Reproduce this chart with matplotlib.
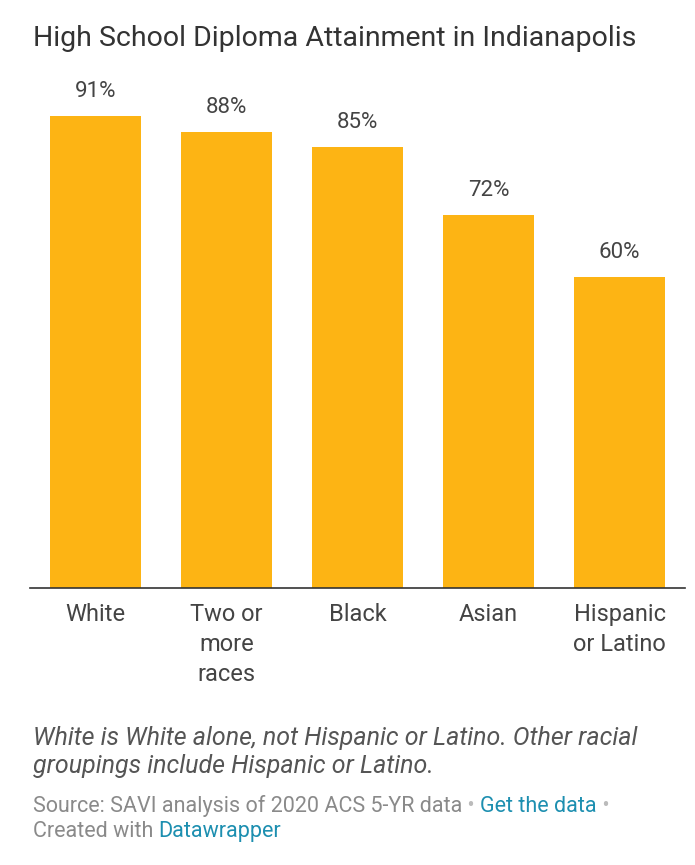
import matplotlib
matplotlib.use("Agg")
import matplotlib.pyplot as plt
from matplotlib.transforms import blended_transform_factory

categories = ["White", "Two or\nmore\nraces", "Black", "Asian", "Hispanic\nor Latino"]
values = [91, 88, 85, 72, 60]
value_labels = ["91%", "88%", "85%", "72%", "60%"]

title = "High School Diploma Attainment in Indianapolis"
note_lines = ["White is White alone, not Hispanic or Latino. Other racial",
              "groupings include Hispanic or Latino."]

W, H = 695, 865
plt.rcParams["font.family"] = ["Roboto", "DejaVu Sans"]
fig = plt.figure(figsize=(W / 100, H / 100), dpi=100)

# axes box in pixels: left 30, right 685, top 88, bottom 588
left, right, top, bottom = 30, 685, 88, 588
ax = fig.add_axes([left / W, 1 - bottom / H, (right - left) / W, (bottom - top) / H])

bar_color = "#FDB414"
x = list(range(len(categories)))
ax.bar(x, values, width=0.695, color=bar_color, zorder=2)
ax.set_xlim(-0.5, len(categories) - 0.5)
ymax = 91 * (bottom - top) / (588 - 116)
ax.set_ylim(0, ymax)

for xi, v, lab in zip(x, values, value_labels):
    ax.annotate(lab, (xi, v), xytext=(0, 13.5), textcoords="offset points",
                ha="center", va="baseline", fontsize=16, color="#444444")

for side in ["top", "right", "left"]:
    ax.spines[side].set_visible(False)
ax.spines["bottom"].set_color("#333333")
ax.spines["bottom"].set_linewidth(1.2)
ax.set_yticks([])
ax.set_xticks(x)
ax.set_xticklabels([])
ax.tick_params(axis="x", length=0)

# category labels, one line at a time so each baseline sits where wanted
trans = blended_transform_factory(ax.transData, fig.transFigure)
for xi, cat in zip(x, categories):
    for i, line in enumerate(cat.split("\n")):
        ax.text(xi, 1 - (621 + 30 * i) / H, line, transform=trans, ha="center",
                va="baseline", fontsize=17, color="#444444")

fig.text(33 / W, 1 - 46 / H, title, fontsize=20.5, color="#333333", ha="left", va="baseline")

for i, line in enumerate(note_lines):
    fig.text(33 / W, 1 - (745 + 28 * i) / H, line, fontsize=18, style="italic",
             color="#555555", ha="left", va="baseline")

fig.canvas.draw()
r = fig.canvas.get_renderer()

def run(parts, y):
    xpos = 33 / W
    for txt, col in parts:
        t = fig.text(xpos, 1 - y / H, txt, fontsize=15.5, color=col, ha="left", va="baseline")
        bb = t.get_window_extent(r)
        xpos = bb.x1 / W

grey, link, dot = "#8a8a8a", "#1d8fb0", "#bbbbbb"
run([("Source: SAVI analysis of 2020 ACS 5-YR data", grey), (" \u2022 ", dot),
     ("Get the data", link), (" \u2022", dot)], 812)
run([("Created with ", grey), ("Datawrapper", link)], 837)

fig.savefig("out.png", dpi=100, facecolor="white")
